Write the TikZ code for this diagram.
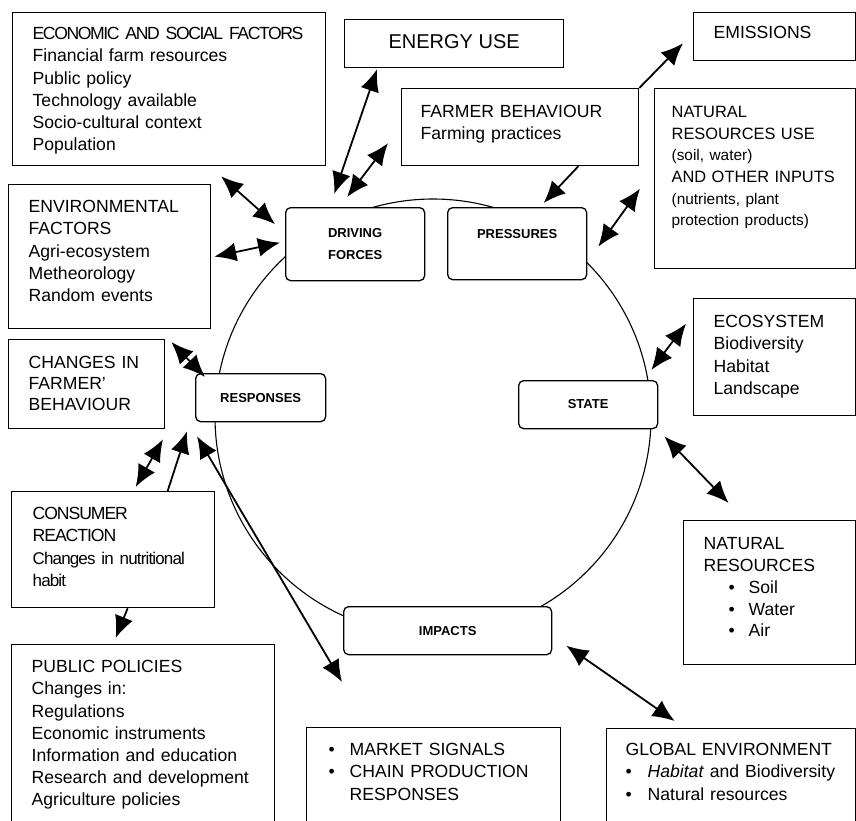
\documentclass[tikz,border=0pt]{standalone}
\usepackage{fontspec}
\setmainfont{Liberation Sans}
\usetikzlibrary{calc,arrows.meta}
\newcommand{\bodyfont}{\fontsize{17.6pt}{22.2pt}\selectfont}
\newcommand{\stagefont}{\fontsize{13pt}{22pt}\selectfont\bfseries}
\newcommand{\smallnote}{\fontsize{15.4pt}{21.6pt}\selectfont}
\newcommand{\condensed}[1][-6]{\addfontfeatures{LetterSpace=#1}}
\newcommand{\bul}[1][20pt]{\makebox[#1][l]{\textbullet}}
\tikzset{factorbox/.style={draw,line width=1.3pt,fill=white,anchor=north west,align=left,inner ysep=0pt,font=\bodyfont},
stagebox/.style={draw,line width=1.3pt,rounded corners=5pt,fill=white,anchor=north west,align=center,inner sep=0pt,font=\stagefont}}

\begin{document}
\begin{tikzpicture}[x=1pt,y=-1pt]

\tikzset{arr/.style={line width=1.8pt,-{Latex[length=22pt,width=19pt]}},
dblarr/.style={line width=1.8pt,{Latex[length=22pt,width=19pt]}-{Latex[length=22pt,width=19pt]}}}

\useasboundingbox (0,0) rectangle (856,821);

% Cycle
\draw[line width=1.1pt] (433,417) circle (218);

% Stages of the cycle
\node[stagebox,text width=139pt,text height=30pt,text depth=43pt] (driving) at (285,207) {DRIVING\\FORCES};
\node[stagebox,text width=139pt,text height=31pt,text depth=41pt] (pressures) at (447,207) {PRESSURES};
\node[stagebox,text width=139pt,text height=28pt,text depth=20pt] (state) at (518,380) {STATE};
\node[stagebox,text width=208pt,text height=29pt,text depth=19pt] (impacts) at (343,606) {IMPACTS};
\node[stagebox,text width=130pt,text height=29pt,text depth=19pt] (responses) at (195,373) {RESPONSES};

% Factors
\node[factorbox,text width=273pt,inner xsep=20pt,text height=27pt,text depth=126pt] (econ) at (12,12) {{\condensed[-8]\mbox{ECONOMIC AND SOCIAL FACTORS}}\\Financial farm resources\\Public policy\\Technology available\\Socio-cultural context\\Population};
\node[factorbox,align=center,inner sep=0pt,minimum width=219pt,text height=29pt,text depth=19pt,font=\fontsize{20pt}{24pt}\selectfont] (energy) at (344,19) {ENERGY USE};
\node[factorbox,text width=122pt,inner xsep=20pt,text height=26pt,text depth=22pt] (emissions) at (693,12) {EMISSIONS};
\node[factorbox,text width=199pt,inner xsep=19pt,text height=29pt,text depth=48pt] (farmer) at (401,88) {FARMER BEHAVIOUR\\Farming practices};
\node[factorbox,text width=167pt,inner xsep=17pt,text height=29pt,text depth=151pt,font=\fontsize{16.4pt}{21.6pt}\selectfont] (nruse) at (654,88) {NATURAL\\RESOURCES USE\\{\smallnote (soil, water)}\\AND OTHER INPUTS\\{\smallnote (nutrients, plant}\\{\smallnote protection products)}};
\node[factorbox,text width=162pt,inner xsep=20pt,text height=28pt,text depth=116pt] (envir) at (8,184) {ENVIRONMENTAL\\FACTORS\\Agri-ecosystem\\Metheorology\\Random events};
\node[factorbox,text width=116pt,inner xsep=20pt,text height=29pt,text depth=60pt,font=\fontsize{17.6pt}{21pt}\selectfont] (changes) at (8,339) {CHANGES IN\\FARMER'\\BEHAVIOUR};
\node[factorbox,text width=122pt,inner xsep=20pt,text height=29pt,text depth=88pt] (ecosys) at (693,298) {ECOSYSTEM\\Biodiversity\\Habitat\\Landscape};
\node[factorbox,text width=132pt,inner xsep=20pt,text height=29pt,text depth=115pt,font=\fontsize{17.6pt}{21.8pt}\selectfont] (natres) at (683,520) {NATURAL\\RESOURCES\\\hspace*{25pt}\bul Soil\\\hspace*{25pt}\bul Water\\\hspace*{25pt}\bul Air};
\node[factorbox,text width=161pt,inner xsep=21pt,text height=28pt,text depth=88pt] (consumer) at (11,491) {{\condensed CONSUMER}\\{\condensed REACTION}\\{\fontsize{17pt}{22.2pt}\selectfont\condensed[-5] Changes in nutritional}\\{\fontsize{17pt}{22.2pt}\selectfont\condensed[-5] habit}};
\node[factorbox,text width=223pt,inner xsep=20pt,text height=28pt,text depth=158pt] (policies) at (11,644) {PUBLIC POLICIES\\Changes in:\\Regulations\\Economic instruments\\Information and education\\Research and development\\Agriculture policies};
\node[factorbox,text width=210pt,inner xsep=22pt,text height=28pt,text depth=103pt] (market) at (306,727) {\bul[21pt]MARKET SIGNALS\\\bul[21pt]CHAIN PRODUCTION\\\hspace*{21pt}RESPONSES};
\node[factorbox,text width=211pt,inner xsep=19pt,text height=27pt,text depth=102pt] (global) at (606,728) {GLOBAL ENVIRONMENT\\\bul[22pt]\textit{Habitat} and Biodiversity\\\bul[22pt]Natural resources};

% Links
\draw[dblarr] ($(econ.south)+(52,10)$) -- ($(driving.west)+(-10,-20)$);
\draw[dblarr] ($(energy.south west)+(33,1)$) -- ($(driving.north)+(-21,-13)$);
\draw[dblarr] ($(farmer.west)+(-13,16)$) -- ($(driving.north)+(-8,-10)$);
\draw[dblarr] ($(envir.east)+(3,0)$) -- ($(driving.west)+(-5,-1.5)$);
\draw[dblarr] ($(changes.north east)+(6,3)$) -- ($(responses.north west)+(10,4)$);
\draw[dblarr] ($(responses.south west)+(-32,17)$) -- ($(consumer.north)+(22.5,-4)$);
\draw[arr] ($(consumer.north)+(54.5,0)$) -- ($(responses.south west)+(-8,9)$);
\draw[dblarr] ($(responses.south west)+(2,14)$) -- ($(market.north west)+(36,-45)$);
\draw[arr] ($(consumer.south)+(14.5,0)$) -- ($(policies.north)+(-27.5,-6)$);
\draw[arr] ($(farmer.south east)+(-61,0)$) -- ($(pressures.north)+(26.5,-4)$);
\draw[arr] (farmer.north east) -- ($(emissions.south west)+(-10,-18)$);
\draw[dblarr] ($(nruse.west)+(-14,10)$) -- ($(pressures.east)+(11,3)$);
\draw[dblarr] ($(ecosys.west)+(-7,-33.5)$) -- ($(state.north east)+(-7,-10)$);
\draw[dblarr] ($(state.south east)+(6,7)$) -- ($(natres.north)+(-41,-17)$);
\draw[dblarr] ($(impacts.east)+(14,15)$) -- ($(global.north)+(-56.5,-7)$);

\end{tikzpicture}
\end{document}
